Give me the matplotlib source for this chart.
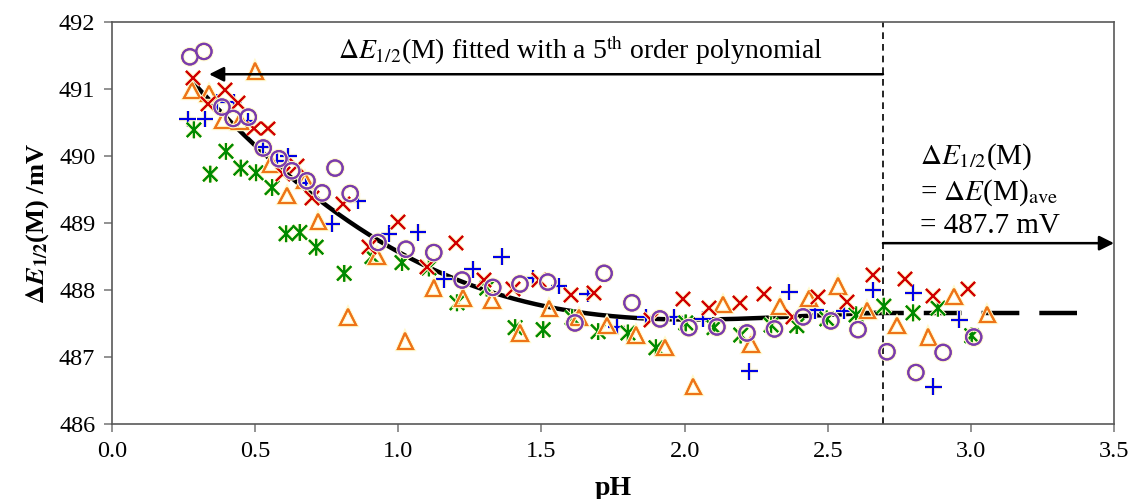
import numpy as np
import matplotlib
matplotlib.use("Agg")
import matplotlib.pyplot as plt
from matplotlib.path import Path
import matplotlib.patheffects as pe

plt.rcParams['font.family'] = ['Liberation Serif', 'DejaVu Serif']
plt.rcParams['mathtext.fontset'] = 'stix'

# five repeat measurements of dE1/2(M) vs pH
ph_circle = [0.272, 0.321, 0.384, 0.423, 0.476, 0.528, 0.583, 0.628, 0.681, 0.734,
             0.779, 0.832, 0.929, 1.027, 1.124, 1.223, 1.330, 1.425, 1.522, 1.617,
             1.719, 1.816, 1.914, 2.015, 2.113, 2.218, 2.314, 2.414, 2.511, 2.606,
             2.707, 2.808, 2.903, 3.010]
de_circle = [491.48, 491.56, 490.73, 490.56, 490.58, 490.12, 489.96, 489.78, 489.63, 489.45,
             489.82, 489.44, 488.71, 488.61, 488.56, 488.15, 488.04, 488.09, 488.12, 487.51,
             488.25, 487.81, 487.57, 487.44, 487.45, 487.36, 487.42, 487.60, 487.54, 487.41,
             487.08, 486.77, 487.07, 487.30]

ph_cross = [0.284, 0.335, 0.395, 0.440, 0.496, 0.546, 0.596, 0.646, 0.697, 0.807,
            0.898, 0.999, 1.099, 1.200, 1.300, 1.401, 1.491, 1.602, 1.683, 1.884,
            1.994, 2.085, 2.195, 2.276, 2.377, 2.467, 2.568, 2.658, 2.769, 2.869, 2.990]
de_cross = [491.17, 490.77, 490.98, 490.79, 490.41, 490.41, 489.73, 489.85, 489.38, 489.29,
            488.64, 489.01, 488.34, 488.70, 488.15, 488.01, 488.15, 487.93, 487.96, 487.56,
            487.87, 487.73, 487.81, 487.94, 487.60, 487.90, 487.82, 488.22, 488.16, 487.91, 488.01]

ph_plus = [0.264, 0.325, 0.365, 0.425, 0.475, 0.526, 0.576, 0.616, 0.676, 0.767,
           0.858, 0.968, 1.069, 1.160, 1.260, 1.361, 1.471, 1.561, 1.662, 1.763,
           1.864, 1.964, 2.065, 2.226, 2.366, 2.457, 2.557, 2.658, 2.799, 2.869, 2.960]
de_plus = [490.55, 490.55, 490.80, 490.80, 490.52, 490.13, 489.93, 490.00, 489.60, 488.99,
           489.33, 488.84, 488.86, 488.16, 488.31, 488.50, 488.18, 488.06, 487.94, 487.45,
           487.60, 487.60, 487.57, 486.79, 487.97, 487.70, 487.69, 488.00, 487.96, 486.56, 487.56]

ph_tri = [0.279, 0.339, 0.388, 0.447, 0.500, 0.555, 0.611, 0.674, 0.720, 0.824,
          0.926, 1.024, 1.124, 1.226, 1.327, 1.425, 1.527, 1.631, 1.729, 1.830,
          1.932, 2.030, 2.134, 2.232, 2.333, 2.435, 2.536, 2.638, 2.742, 2.851,
          2.941, 3.057]
de_tri = [490.98, 490.93, 490.53, 490.52, 491.27, 489.88, 489.41, 489.63, 489.02, 487.60,
          488.50, 487.24, 488.03, 487.88, 487.85, 487.36, 487.73, 487.59, 487.47, 487.33,
          487.14, 486.56, 487.78, 487.19, 487.75, 487.87, 488.06, 487.70, 487.47, 487.30,
          487.90, 487.64]

ph_star = [0.286, 0.343, 0.398, 0.450, 0.503, 0.559, 0.608, 0.656, 0.713, 0.811,
           0.908, 1.013, 1.107, 1.205, 1.309, 1.408, 1.506, 1.607, 1.698, 1.802,
           1.900, 2.004, 2.103, 2.196, 2.302, 2.392, 2.497, 2.599, 2.696, 2.798,
           2.885, 3.003]
de_star = [490.39, 489.73, 490.07, 489.82, 489.75, 489.53, 488.84, 488.86, 488.64, 488.25,
           488.50, 488.41, 488.33, 487.81, 488.03, 487.44, 487.41, 487.59, 487.38, 487.36,
           487.14, 487.51, 487.44, 487.33, 487.48, 487.47, 487.57, 487.63, 487.76, 487.66,
           487.73, 487.32]

# points on the published 5th-order fit curve
curve_ph = [0.279, 0.423, 0.541, 0.702, 0.796, 0.866, 0.912, 1.086, 1.261, 1.380,
            1.519, 1.635, 1.869, 2.218, 2.578, 2.682]
curve_de = [491.09, 490.54, 489.97, 489.39, 489.12, 488.94, 488.75, 488.37, 488.12, 487.90,
            487.73, 487.66, 487.58, 487.57, 487.66, 487.65]

PH_CUT = 2.693      # above this pH the value is taken as constant
E_AVE = 487.66      # mean dE(M) in the plateau region
POLY_ORDER = 5

# Excel-style star: X with a vertical bar
star = Path([(-0.85, -0.85), (0.85, 0.85), (-0.85, 0.85), (0.85, -0.85), (0, -1), (0, 1)],
            [Path.MOVETO, Path.LINETO] * 3)

halo = [pe.withStroke(linewidth=3.2, foreground='#fff9cc'), pe.Normal()]

fig = plt.figure(figsize=(11.35, 4.99), dpi=100)
ax = fig.add_axes([0.0987, 0.150, 0.8828, 0.806])

coef = np.polyfit(curve_ph, curve_de, POLY_ORDER)
xf = np.linspace(curve_ph[0], PH_CUT, 200)
ax.plot(xf, np.polyval(coef, xf), color='black', lw=3.2, zorder=2)
ax.plot([2.634, 3.37], [E_AVE, E_AVE], color='black', lw=3.2,
        linestyle=(0, (8.5, 4.5)), zorder=2)

ms = 11
kw = dict(linestyle='none', markerfacecolor='none', markeredgewidth=1.5,
          path_effects=halo, zorder=3)
ax.plot(ph_plus, de_plus, marker='+', ms=ms + 1, color='#0000e6', **kw)
ax.plot(ph_star, de_star, marker=star, ms=ms + 1, color='#008a00', **kw)
ax.plot(ph_tri, de_tri, marker='^', ms=ms, color='#ee7418', **kw)
ax.plot(ph_cross, de_cross, marker='x', ms=ms - 1, color='#d00000', **kw)
ax.plot(ph_circle, de_circle, marker='o', ms=ms, color='#7a3cac', **kw)

# cut-off marker and annotation arrows
ax.axvline(PH_CUT, color='black', lw=1.2, ls=(0, (4, 3)), zorder=1)
ax.annotate('', xy=(0.339, 491.22), xytext=(PH_CUT, 491.22),
            arrowprops=dict(arrowstyle='-|>', color='black', lw=1.8,
                            mutation_scale=22, shrinkA=0, shrinkB=0))
ax.annotate('', xy=(3.5, 488.70), xytext=(PH_CUT, 488.70),
            arrowprops=dict(arrowstyle='-|>', color='black', lw=1.8,
                            mutation_scale=22, shrinkA=0, shrinkB=0))
ax.text(1.635, 491.58, r'$\Delta E_{1/2}$(M) fitted with a 5$^{\mathrm{th}}$ order polynomial',
        ha='center', va='center', fontsize=20)
ax.text(2.822, 489.99, r'$\Delta E_{1/2}$(M)', ha='left', va='center', fontsize=21)
ax.text(2.822, 489.46, r'= $\Delta E$(M)$_{\mathrm{ave}}$', ha='left', va='center', fontsize=21)
ax.text(2.822, 488.96, f'= {E_AVE:.1f} mV', ha='left', va='center', fontsize=21)

ax.set_xlim(0, 3.5)
ax.set_ylim(486, 492)
ax.set_xticks(np.arange(0, 3.51, 0.5))
ax.set_xticklabels([f'{v:.1f}' for v in np.arange(0, 3.51, 0.5)])
ax.set_yticks(range(486, 493))
ax.tick_params(labelsize=17.5, color='#7f7f7f', length=6, width=1.2, pad=6)
for s in ax.spines.values():
    s.set_color('#595959')
    s.set_linewidth(1.2)

ax.set_xlabel('pH', fontsize=20, fontweight='bold', labelpad=10)
ax.set_ylabel(r'$\mathbf{\Delta}\mathbfit{E}_{\mathbf{1/2}}$(M) /mV', fontsize=19,
              fontweight='bold', labelpad=6)

fig.savefig('out.png', dpi=100)
